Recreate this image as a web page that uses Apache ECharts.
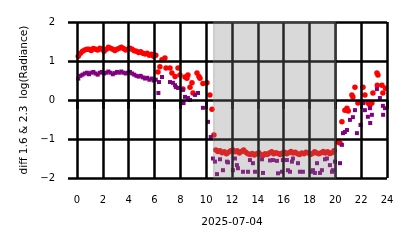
<!DOCTYPE html>
<html>
<head>
<meta charset="utf-8">
<script src="https://cdn.jsdelivr.net/npm/echarts@6/dist/echarts.min.js"></script>
<style>html,body{margin:0;padding:0;background:#fff}#c{width:414px;height:248px}</style>
</head>
<body>
<div id="c"></div>
<script>
// x ticks (hours of 2025-07-04) and y ticks
const xTicks = [0, 2, 4, 6, 8, 10, 12, 14, 16, 18, 20, 22, 24];
const yTicks = [-2, -1, 0, 1, 2];
const nightSpan = [10.58, 20.02];

// red series (1.6) : times (h) and values
const redT = [
  0.1,0.27,0.43,0.6,0.77,0.93,1.1,1.27,1.43,1.6,1.77,1.93,2.1,2.27,2.43,2.6,2.77,2.93,3.1,3.27,3.43,3.6,3.77,3.93,4.1,4.27,4.43,4.6,4.77,4.93,5.1,5.27,5.43,5.6,5.77,5.93,6.1,
  6.27,6.42,6.58,6.81,6.89,7.2,7.35,7.59,7.82,7.97,8.36,8.2,8.51,8.59,8.75,8.9,8.98,9.29,9.44,9.52,9.75,10.06,10.29,10.45,
  10.6,10.75,10.9,11.07,11.23,11.4,11.57,11.73,11.9,12.07,12.23,12.4,12.57,12.73,12.9,13.07,13.23,13.4,13.57,13.73,13.9,14.07,14.23,14.4,14.57,14.73,14.9,15.07,15.23,15.4,15.57,15.73,15.9,16.07,16.23,16.4,16.57,16.73,16.9,17.07,17.23,17.4,17.57,17.73,17.9,18.07,18.23,18.4,18.57,18.73,18.9,19.07,19.23,19.4,19.57,19.73,19.9,
  20.2,20.36,20.51,20.74,20.9,21.0,21.28,21.36,21.52,21.75,22.06,22.14,22.29,22.52,22.68,22.83,22.91,23.22,23.3,23.25,23.61,23.68,23.88
];
const redV = [
  1.12,1.2,1.25,1.28,1.3,1.3,1.27,1.32,1.3,1.28,1.33,1.3,1.25,1.3,1.35,1.33,1.3,1.27,1.3,1.33,1.35,1.32,1.28,1.3,1.33,1.3,1.26,1.25,1.22,1.24,1.2,1.18,1.2,1.15,1.17,1.12,1.15,
  0.72,0.85,1.03,1.08,0.82,0.82,0.69,0.6,0.82,0.64,0.59,0.28,0.56,0.64,0.33,0.44,0.18,0.69,0.6,0.56,0.42,0.44,0.13,-0.24,
  -0.9,-1.28,-1.32,-1.3,-1.35,-1.33,-1.38,-1.34,-1.3,-1.28,-1.33,-1.3,-1.36,-1.32,-1.28,-1.34,-1.38,-1.4,-1.37,-1.41,-1.38,-1.35,-1.4,-1.42,-1.38,-1.4,-1.36,-1.33,-1.38,-1.35,-1.37,-1.4,-1.36,-1.34,-1.38,-1.35,-1.32,-1.36,-1.34,-1.38,-1.4,-1.36,-1.38,-1.34,-1.36,-1.4,-1.37,-1.33,-1.36,-1.38,-1.35,-1.32,-1.36,-1.33,-1.37,-1.35,-1.3,
  -1.08,-1.1,-0.56,-0.26,-0.21,-0.28,0.13,0.08,0.33,-0.08,-0.05,0.33,0.13,-0.08,-0.13,-0.08,0.18,0.69,0.64,0.38,0.38,0.18,0.3
];

// purple series (2.3) : times (h) and values
const purT = [
  0.1,0.27,0.43,0.6,0.77,0.93,1.1,1.27,1.43,1.6,1.77,1.93,2.1,2.27,2.43,2.6,2.77,2.93,3.1,3.27,3.43,3.6,3.77,3.93,4.1,4.27,4.43,4.6,4.77,4.93,5.1,5.27,5.43,5.6,5.77,5.93,6.1,
  6.3,6.35,6.58,7.2,7.43,7.59,7.65,7.82,8.2,8.25,8.36,8.59,8.75,9.14,9.37,9.75,10.14,10.35,
  10.53,10.68,10.84,11.07,11.3,11.61,11.69,12.07,12.23,12.38,12.46,12.85,13.24,13.39,13.62,13.78,14.32,14.4,14.94,15.17,15.48,15.56,15.87,15.94,16.25,16.33,16.49,16.64,16.72,17.11,17.26,17.49,18.19,18.27,18.42,18.58,18.81,18.96,19.2,19.35,19.58,19.74,19.81,19.97,20.36,20.51,
  20.59,20.74,20.9,21.13,21.36,21.52,21.67,21.95,22.14,22.29,22.52,22.68,22.7,22.83,23.22,23.45,23.68,23.7,23.84
];
const purV = [
  0.55,0.62,0.65,0.68,0.7,0.66,0.7,0.72,0.68,0.65,0.7,0.72,0.68,0.7,0.73,0.7,0.66,0.69,0.72,0.7,0.73,0.7,0.68,0.7,0.72,0.68,0.65,0.62,0.6,0.62,0.58,0.55,0.57,0.52,0.55,0.5,0.52,
  0.18,0.46,0.59,0.46,0.44,0.38,0.33,0.31,0.26,-0.08,0.08,0.05,0.0,0.13,0.18,-0.2,-0.56,-0.95,
  -1.5,-1.58,-1.9,-1.52,-1.8,-1.58,-1.6,-1.8,-1.5,-1.67,-1.75,-1.84,-1.84,-1.54,-1.62,-1.84,-1.52,-1.87,-1.55,-1.54,-1.56,-1.88,-1.84,-1.54,-1.54,-1.8,-1.84,-1.58,-1.5,-1.62,-1.84,-1.84,-1.84,-1.8,-1.87,-1.62,-1.87,-1.8,-1.52,-1.5,-1.67,-1.84,-1.8,-1.58,-1.62,-1.15,
  -0.85,-0.82,-0.77,-0.51,-0.44,-0.26,-0.85,-0.64,-0.08,-0.26,-0.43,-0.21,-0.59,-0.38,0.28,0.05,-0.15,-0.38,-0.21
];

const font = 'DejaVu Sans';
const chart = echarts.init(document.getElementById('c'), null, {renderer: 'canvas'});
const fmt = v => (v < 0 ? '\u2212' + Math.abs(v) : String(v));
const axisCommon = {
  type: 'value',
  z: 5,
  axisLine: {show: false},
  axisTick: {show: true, inside: false, length: 9, lineStyle: {color: '#000', width: 2.5}},
  splitLine: {show: true, showMinLine: true, showMaxLine: true, lineStyle: {color: '#000', width: 2.5}},
  nameLocation: 'middle',
  nameTextStyle: {fontFamily: font, fontSize: 10.6, color: '#000'}
};
chart.setOption({
  animation: false,
  backgroundColor: '#fff',
  grid: {left: 77, right: 27, top: 22, bottom: 70},
  xAxis: Object.assign({}, axisCommon, {
    min: xTicks[0], max: xTicks[xTicks.length - 1], interval: 2,
    name: '2025-07-04', nameGap: 39,
    axisLabel: {margin: 17, fontFamily: font, fontSize: 10, color: '#000', formatter: fmt}
  }),
  yAxis: Object.assign({}, axisCommon, {
    min: yTicks[0], max: yTicks[yTicks.length - 1], interval: 1,
    name: 'diff 1.6 & 2.3  log(Radiance)', nameGap: 47, nameRotate: 90,
    axisLabel: {margin: 22, fontFamily: font, fontSize: 10, color: '#000', formatter: fmt}
  }),
  series: [
    {
      type: 'scatter', z: 2, symbol: 'circle', symbolSize: 5.5,
      itemStyle: {color: '#ff0000', opacity: 1},
      data: redT.map((t, i) => [t, redV[i]]),
      markArea: {
        silent: true, z: 10,
        itemStyle: {color: 'rgba(128,128,128,0.3)', borderColor: 'rgba(128,128,128,0.3)', borderWidth: 1.5},
        data: [[{xAxis: nightSpan[0], yAxis: -2}, {xAxis: nightSpan[1], yAxis: 2}]]
      }
    },
    {
      type: 'scatter', z: 3, symbol: 'rect', symbolSize: 4,
      itemStyle: {color: '#800080', opacity: 1},
      data: purT.map((t, i) => [t, purV[i]])
    }
  ]
});
</script>
</body>
</html>
